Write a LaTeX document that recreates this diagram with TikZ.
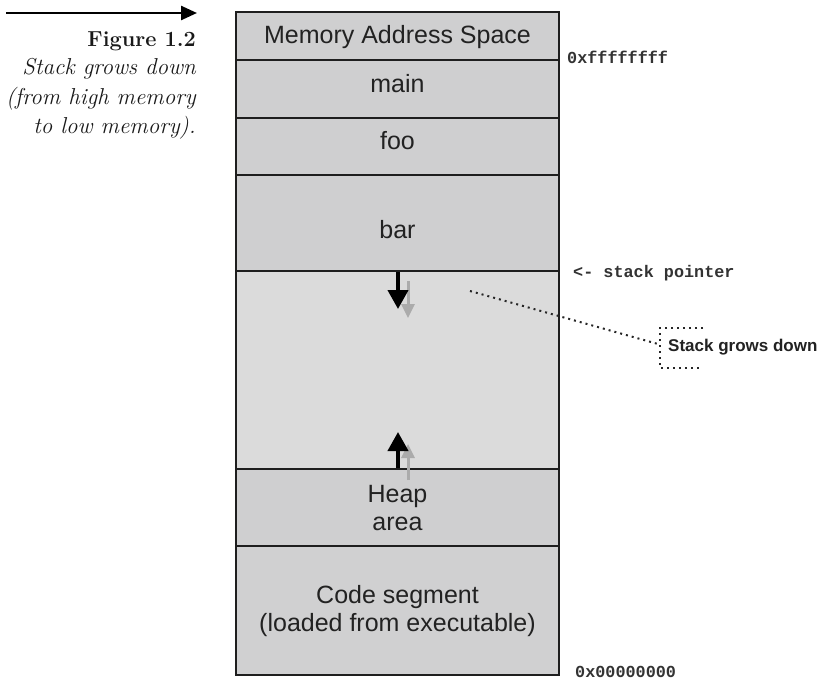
\documentclass[tikz,border=0pt]{standalone}
\usepackage{fontspec}
\newfontfamily\arialf{Liberation Sans}
\newfontfamily\monof{Liberation Mono}
\usetikzlibrary{arrows.meta}
\definecolor{segfill}{HTML}{CFCFD0}
\definecolor{emptyfill}{HTML}{DBDBDB}
\definecolor{edgec}{HTML}{1E1E1E}
\definecolor{txt}{HTML}{222222}
\definecolor{shadowc}{HTML}{ABABAB}
\definecolor{monoc}{HTML}{333333}
\begin{document}
\begin{tikzpicture}[x=1pt,y=-1pt,
  seg/.style={rectangle, draw=edgec, line width=2.6pt, fill=segfill, minimum width=323pt, inner sep=0pt},
  boxtext/.style={font=\arialf\fontsize{25}{30}\selectfont, text=txt, inner sep=0pt, anchor=base},
  monotext/.style={font=\monof\bfseries\fontsize{16.8}{20}\selectfont, text=monoc, inner sep=0pt, anchor=base west},
  captext/.style={inner sep=0pt, anchor=base east, text=black!90},
  capital/.style={captext, font=\itshape\fontsize{23}{26}\selectfont},
  bigarrow/.style={line width=4pt, draw=black, -{Triangle[width=20pt,length=19pt]}},
  shadowarrow/.style={line width=3pt, draw=shadowc, -{Triangle[width=13pt,length=14pt]}},
  dotline/.style={line width=2pt, draw=black!85, dash pattern=on 2pt off 4pt}
]
\useasboundingbox (0,0) rectangle (818,683);

% caption
\coordinate (ca1) at (6,13);
\coordinate (ca2) at (197,13);
\draw[line width=2.5pt, -{Triangle[width=14pt,length=16pt]}] (ca1) -- (ca2);
\node[captext, font=\bfseries\fontsize{21.7}{26}\selectfont] (fig) at (196,46) {Figure 1.2};
\node[capital] (cap1) at (196,74) {Stack grows down};
\node[capital] (cap2) at (196,104) {(from high memory};
\node[capital] (cap3) at (196,133) {to low memory).};

% memory segments
\node[seg, minimum height=48pt] (hdr) at (397.5,36) {};
\node[seg, minimum height=58pt] (main) at (397.5,89) {};
\node[seg, minimum height=57pt] (foo) at (397.5,146.5) {};
\node[seg, minimum height=96pt] (bar) at (397.5,223) {};
\node[seg, fill=emptyfill, minimum height=198pt] (free) at (397.5,370) {};
\node[seg, minimum height=77pt] (heap) at (397.5,507.5) {};
\node[seg, fill=segfill!97!white, minimum height=129pt] (code) at (397.5,610.5) {};

\node[boxtext] (thdr) at (397.5,43) {Memory Address Space};
\node[boxtext] (tmain) at (397.5,92) {main};
\node[boxtext] (tfoo) at (397.5,149) {foo};
\node[boxtext] (tbar) at (397.5,238) {bar};
\node[boxtext] (theap) at (397.5,502) {Heap};
\node[boxtext] (tarea) at (397.5,530) {area};
\node[boxtext] (tcode) at (397.5,603) {Code segment};
\node[boxtext] (tload) at (397.5,631) {(loaded from executable)};

% arrows in free area
\coordinate (sd1) at (408,281);
\coordinate (sd2) at (408,318);
\draw[shadowarrow] (sd1) -- (sd2);
\coordinate (dtip) at (398,309);
\draw[bigarrow] (bar.south -| dtip) -- (dtip);

\coordinate (su1) at (408,480);
\coordinate (su2) at (408,444);
\draw[shadowarrow] (su1) -- (su2);
\coordinate (utip) at (398,432);
\draw[bigarrow] (heap.north -| utip) -- (utip);

% address labels
\node[monotext] (hi) at (567,63) {0xffffffff};
\node[monotext] (sp) at (573,277) {<- stack pointer};
\node[monotext] (lo) at (575,677) {0x00000000};

% callout
\node[font=\arialf\bfseries\fontsize{17}{20}\selectfont, text=txt, inner sep=0pt, anchor=base west] (sgd) at (668,351) {Stack grows down};
\coordinate (lead) at (470,291);
\coordinate (brk) at (658,344);
\coordinate (bt1) at (703,328);
\coordinate (bt2) at (660,328);
\coordinate (bb1) at (660,368);
\coordinate (bb2) at (699,368);
\draw[dotline] (lead) -- (brk);
\draw[dotline] (bt1) -- (bt2) -- (bb1) -- (bb2);
\end{tikzpicture}
\end{document}
